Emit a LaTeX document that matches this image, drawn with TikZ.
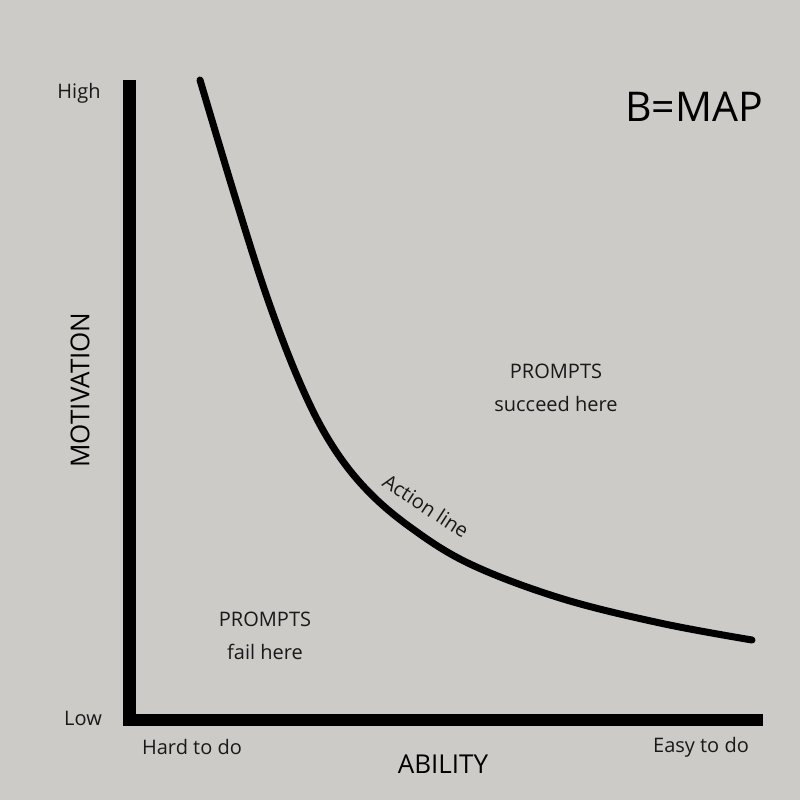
\documentclass[tikz,border=0pt]{standalone}
\usepackage{fontspec}
\setmainfont{Open Sans}
\usepackage{tikz}
\usetikzlibrary{positioning}

\definecolor{paper}{RGB}{205,203,200}

\begin{document}
\begin{tikzpicture}[x=1pt,y=-1pt,
	label text/.style={font=\fontsize{20}{23}\selectfont,text=black!90,inner sep=0pt},
	axis name/.style={font=\fontsize{26}{29}\selectfont,text=black,inner sep=0pt},
	axis/.style={line width=12.5pt,line join=miter},
	action/.style={line width=7pt,line cap=round}]
	\fill[paper] (0,0) rectangle (800,800);
	\useasboundingbox (0,0) rectangle (800,800);

	% axes
	\coordinate (top) at (129.5,80);
	\coordinate (corner) at (129.5,720);
	\coordinate (right) at (763,720);
	\draw[axis] (top) -- (corner) -- (right);

	% action line
	\draw[action] plot[smooth,tension=0.6] coordinates {(200,80) (236,200) (268,300) (300,383) (330,442) (365,488) (410,527) (470,564) (560,598) (660,623) (752,640)};

	\node (high) [label text] at (79,93) {High};
	\node (low) [label text] at (83,718) {Low};
	\node (hard) [label text] at (192,747) {Hard to do};
	\node (easy) [label text] at (701,747) {Easy to do};
	\node (ability) [axis name] at (443,764) {ABILITY};
	\node (motivation) [axis name,rotate=90] at (80,390) {MOTIVATION};
	\node (bmap) [font=\fontsize{41}{45}\selectfont,inner sep=0pt] at (694,107) {B=MAP};

	\node (succeed) [label text,align=center] at (556,388) {PROMPTS\\[10pt]succeed here};
	\node (fail) [label text,align=center] at (265,636) {PROMPTS\\[10pt]fail here};
	\node (actionlabel) [label text,rotate=-33] at (426,506) {Action line};
\end{tikzpicture}
\end{document}
